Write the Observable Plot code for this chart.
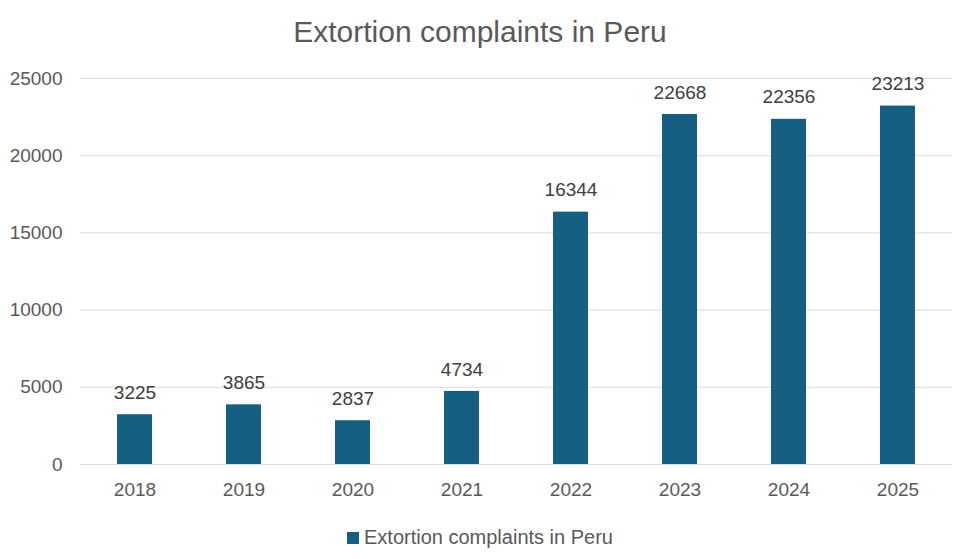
<!DOCTYPE html>
<html><head><meta charset="utf-8">
<script src="https://cdn.jsdelivr.net/npm/d3@7"></script>
<script src="https://cdn.jsdelivr.net/npm/@observablehq/plot@0.6"></script>
<style>
body{margin:0;background:#fff;font-family:"Liberation Sans",Arial,sans-serif;color:#595959;width:960px;}
#title{height:58px;line-height:64px;text-align:center;font-size:30px;}
#legend{height:43px;display:flex;align-items:center;justify-content:center;font-size:20px;}
#legend span.sw{display:inline-block;width:12px;height:12px;background:#156082;margin-right:5px}
</style></head>
<body>
<div id="title">Extortion complaints in Peru</div>
<div id="chart"></div>
<div id="legend"><span class="sw"></span>Extortion complaints in Peru</div>
<script>
const years = ["2018","2019","2020","2021","2022","2023","2024","2025"];
const complaints = [3225,3865,2837,4734,16344,22668,22356,23213];
const yTicks = [0,5000,10000,15000,20000,25000];
const data = years.map((y,i)=>({year:y,value:complaints[i]}));
const chart = Plot.plot({
  width:960, height:458,
  marginTop:20, marginBottom:52, marginLeft:80, marginRight:8,
  style:{fontFamily:"Liberation Sans, Arial, sans-serif", fontSize:"19px", color:"#595959", background:"#fff"},
  x:{domain:years, paddingInner:0.68, paddingOuter:0.34, label:null},
  y:{domain:[0,25000], label:null},
  marks:[
    Plot.gridY(yTicks,{stroke:"#d9d9d9", strokeOpacity:1, strokeWidth:1}),
    Plot.barY(data,{x:"year", y:"value", fill:"#156082"}),
    Plot.text(data,{x:"year", y:"value", text:d=>String(d.value), dy:-22, fill:"#404040", fontSize:19}),
    Plot.axisX({tickSize:0, tickPadding:18, fontSize:19}),
    Plot.axisY(yTicks,{tickSize:0, tickPadding:18, fontSize:19, tickFormat:d=>String(d)})
  ]
});
document.getElementById("chart").appendChild(chart);
</script>
</body></html>
